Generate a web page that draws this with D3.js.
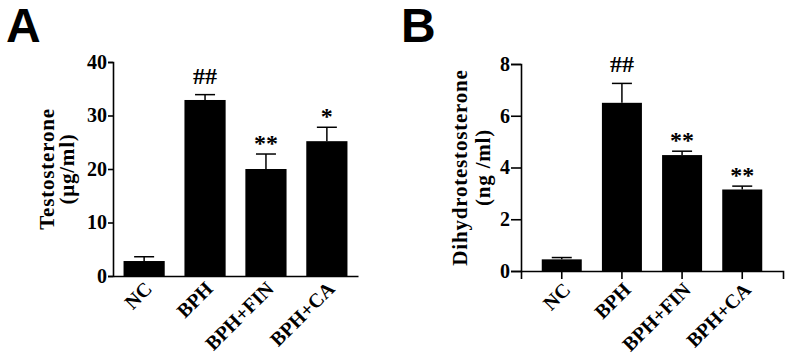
<!DOCTYPE html>
<html>
<head>
<meta charset="utf-8">
<script src="https://cdn.jsdelivr.net/npm/d3@7"></script>
<style>
  html, body { margin: 0; padding: 0; background: #fff; }
  svg { display: block; }
  text { font-family: "Liberation Serif", "Times New Roman", serif; font-weight: bold; fill: #000; }
</style>
</head>
<body>
<svg id="chart" width="790" height="354"></svg>
<script>
// ---- data ----
const categories = ["NC", "BPH", "BPH+FIN", "BPH+CA"];

const testosteroneMean = [2.8, 32.9, 20.0, 25.2];
const testosteroneErr  = [0.8, 1.0, 2.8, 2.6];
const testosteroneMarks = ["", "##", "**", "*"];
const testosteroneTicks = [0, 10, 20, 30, 40];

const dhtMean = [0.45, 6.5, 4.48, 3.15];
const dhtErr  = [0.07, 0.75, 0.15, 0.13];
const dhtMarks = ["", "##", "**", "**"];
const dhtTicks = [0, 2, 4, 6, 8];

const svg = d3.select("#chart");

function panel(cfg) {
  const g = svg.append("g");
  const x = d3.scaleBand().domain(categories)
    .range([cfg.x0, cfg.x1]).paddingInner(cfg.pi).paddingOuter(cfg.po);
  const y = d3.scaleLinear().domain(cfg.domain).range([cfg.y0, cfg.y1]);

  // bars
  g.selectAll("rect.bar").data(categories).enter().append("rect")
    .attr("class", "bar")
    .attr("x", d => x(d))
    .attr("width", x.bandwidth())
    .attr("y", (d, i) => y(cfg.mean[i]))
    .attr("height", (d, i) => y(0) - y(cfg.mean[i]))
    .attr("fill", "#000");

  // error bars (upper only)
  const eb = g.selectAll("g.err").data(categories).enter().append("g").attr("class", "err");
  eb.append("line")
    .attr("x1", d => x(d) + x.bandwidth() / 2)
    .attr("x2", d => x(d) + x.bandwidth() / 2)
    .attr("y1", (d, i) => y(cfg.mean[i]))
    .attr("y2", (d, i) => y(cfg.mean[i] + cfg.err[i]))
    .attr("stroke", "#000").attr("stroke-width", 1.5);
  eb.append("line")
    .attr("x1", d => x(d) + x.bandwidth() / 2 - 10)
    .attr("x2", d => x(d) + x.bandwidth() / 2 + 10)
    .attr("y1", (d, i) => y(cfg.mean[i] + cfg.err[i]))
    .attr("y2", (d, i) => y(cfg.mean[i] + cfg.err[i]))
    .attr("stroke", "#000").attr("stroke-width", 1.5);

  // significance marks
  g.selectAll("text.mark").data(categories).enter().append("text")
    .attr("class", "mark")
    .attr("x", d => x(d) + x.bandwidth() / 2)
    .attr("y", (d, i) => y(cfg.mean[i] + cfg.err[i]) - (cfg.marks[i].startsWith("#") ? 11 : 3))
    .attr("text-anchor", "middle")
    .attr("font-size", 24)
    .text((d, i) => cfg.marks[i]);

  // y axis
  const ya = g.append("g").attr("transform", `translate(${cfg.x0},0)`)
    .call(d3.axisLeft(y).tickValues(cfg.ticks).tickSizeOuter(0).tickSize(cfg.yTick).tickPadding(1));
  ya.select(".domain").attr("stroke-width", 1.6);
  ya.selectAll(".tick line").attr("stroke-width", 1.6);
  ya.selectAll(".tick text").attr("font-size", 20)
    .style("font-family", '"Liberation Serif", serif').style("font-weight", "bold");

  // x axis
  const xa = g.append("g").attr("transform", `translate(0,${cfg.y0})`)
    .call(d3.axisBottom(x).tickSizeOuter(0).tickSize(cfg.xTick));
  xa.select(".domain").attr("stroke-width", 1.6);
  xa.selectAll(".tick line").attr("stroke-width", 1.6);
  xa.selectAll(".tick text")
    .attr("x", 0).attr("y", 0).attr("dy", null)
    .attr("text-anchor", "end")
    .attr("font-size", 20)
    .style("font-family", '"Liberation Serif", serif').style("font-weight", "bold")
    .attr("transform", `translate(${cfg.lblDx},${cfg.lblDy}) rotate(-45)`);

  // y title (two lines)
  const cy = (cfg.y0 + cfg.y1) / 2;
  cfg.title.forEach((t, k) => {
    g.append("text")
      .attr("transform", `translate(${cfg.titleX[k]},${cy}) rotate(-90)`)
      .attr("text-anchor", "middle")
      .attr("font-size", 21)
      .attr("letter-spacing", "0.8px")
      .text(t);
  });

  // panel letter
  g.append("text")
    .attr("x", cfg.letterX).attr("y", 42)
    .style("font-family", '"Liberation Sans", Arial, sans-serif')
    .style("font-weight", "bold")
    .attr("font-size", 48)
    .text(cfg.letter);
}

panel({
  x0: 113, x1: 358, pi: 0.324, po: 0.173,
  y0: 276, y1: 62, domain: [0, 40], ticks: testosteroneTicks,
  mean: testosteroneMean, err: testosteroneErr, marks: testosteroneMarks,
  yTick: 5, xTick: 0, lblDx: 9, lblDy: 14,
  title: ["Testosterone", "(μg/ml)"], titleX: [54, 74],
  letter: "A", letterX: 6
});

panel({
  x0: 521, x1: 783, pi: 0.335, po: 0.345,
  y0: 271, y1: 64, domain: [0, 8], ticks: dhtTicks,
  mean: dhtMean, err: dhtErr, marks: dhtMarks,
  yTick: 10, xTick: 8, lblDx: 10, lblDy: 20,
  title: ["Dihydrotestosterone", "(ng /ml)"], titleX: [467, 490],
  letter: "B", letterX: 401
});
</script>
</body>
</html>
